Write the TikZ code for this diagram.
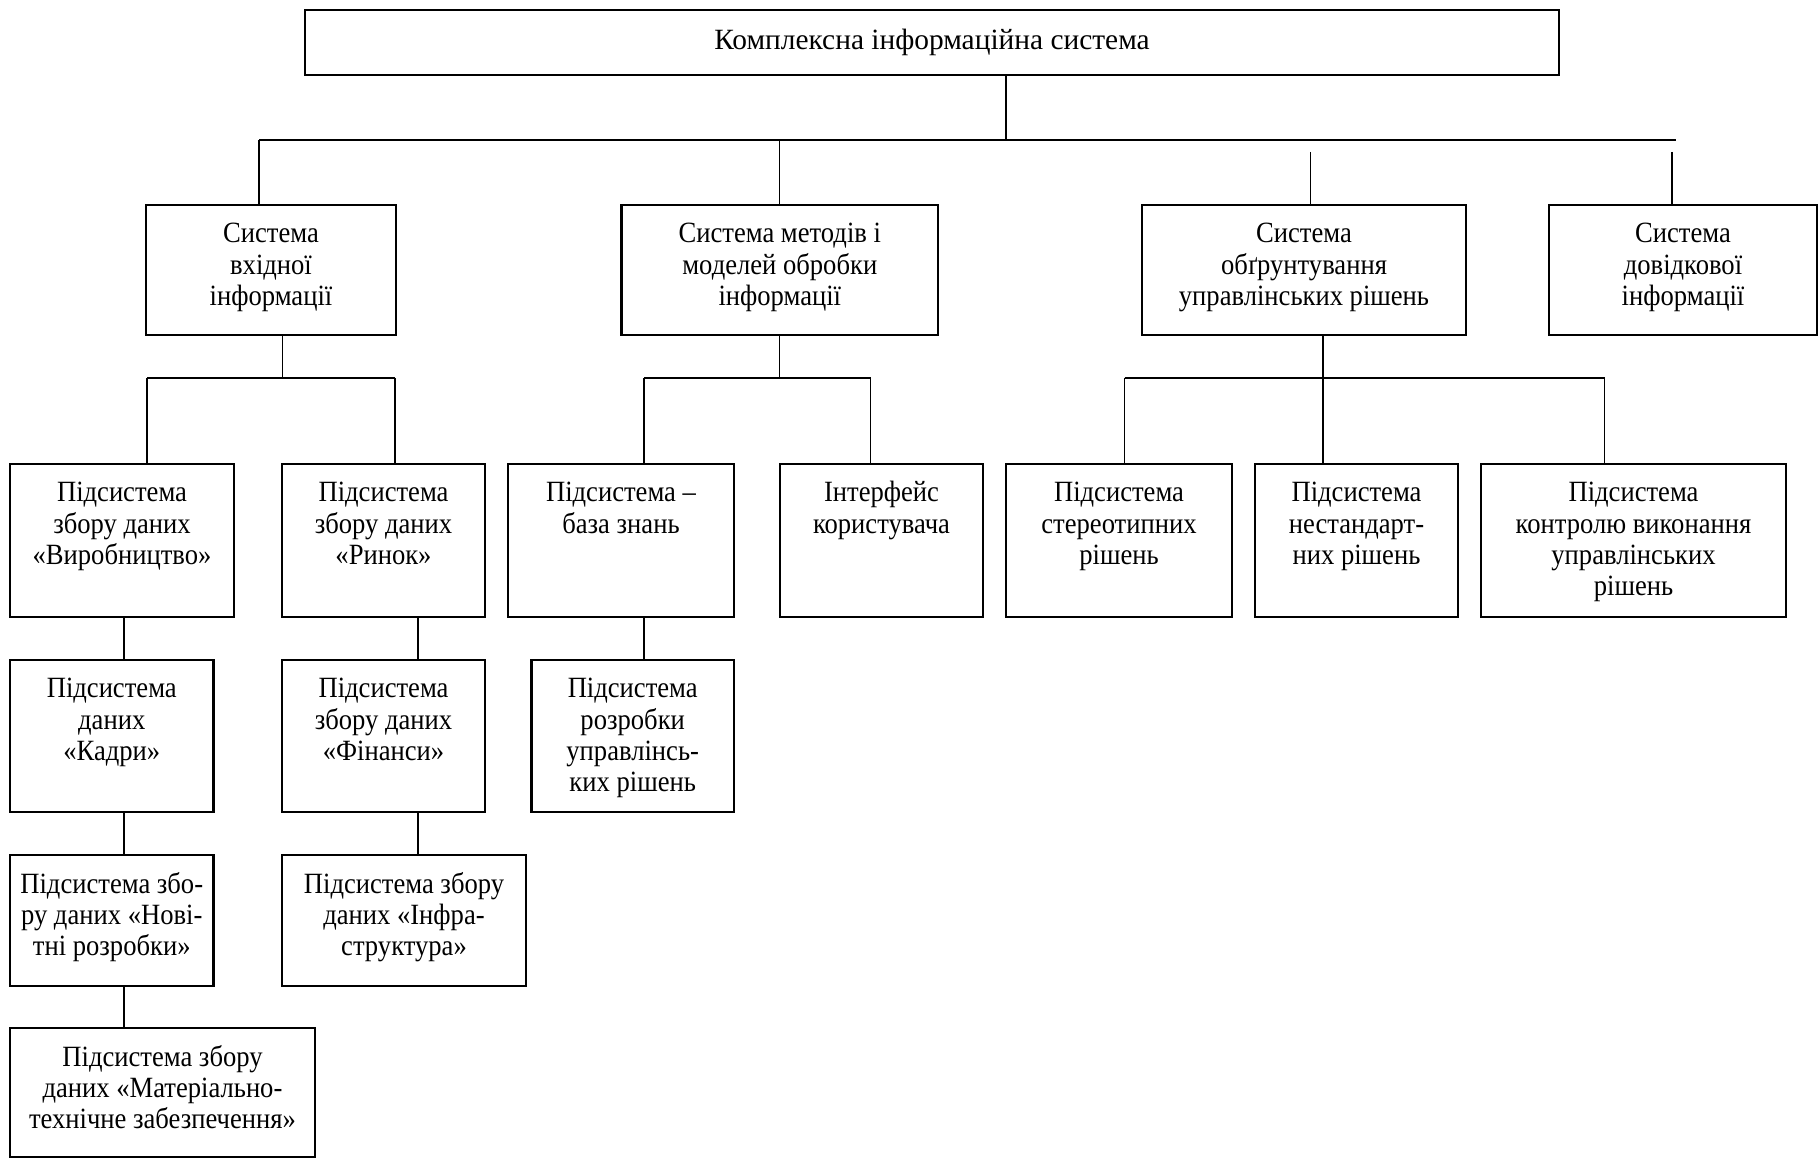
\documentclass[tikz,border=0pt]{standalone}
\usepackage{fontspec}
\setmainfont{Liberation Serif}
\newfontfamily\bodyfont[FakeStretch=0.905]{Liberation Serif}
\newcommand{\mkbox}[6]{%
  \node[boxst, minimum width={(#4-#2)*0.5pt}, minimum height={(#5-#3)*0.5pt}] (#1) at ({(#2+#4)/2},{(#3+#5)/2}) {};
  \node[txt] (#1t) at ({(#2+#4)/2},{#3+12}) {\rule{0pt}{13pt}#6};
}
\begin{document}
\begin{tikzpicture}[x=0.5pt,y=-0.5pt,
  boxst/.style={draw=black, line width=1.2pt, inner sep=0pt, outer sep=0pt},
  txt/.style={inner sep=0pt, outer sep=0pt, align=center, anchor=north, font=\bodyfont\fontsize{14.7pt}{15.65pt}\selectfont},
  conn/.style={draw=black, line width=0.65pt}]
\useasboundingbox (0,0) rectangle (1820,1159);

% top box
\node[boxst, minimum width={(1559-305)*0.5pt}, minimum height={(75-10)*0.5pt}] (top) at ({(305+1559)/2},{(10+75)/2}) {};
\node[txt, font=\rmfamily\fontsize{14.7pt}{15.65pt}\selectfont] (topt) at ({(305+1559)/2},{50-26}) {\rule{0pt}{13pt}Комплексна інформаційна система};

% level 1
\mkbox{s1}{146}{205}{396}{335}{Система\\вхідної\\інформації}
\mkbox{s2}{621.6}{205}{938}{335}{Система методів і\\моделей обробки\\інформації}
\mkbox{s3}{1142}{205}{1466}{335}{Система\\обґрунтування\\управлінських рішень}
\mkbox{s4}{1549}{205}{1817}{335}{Система\\довідкової\\інформації}

% level 2
\mkbox{p1}{10}{464}{234}{617}{Підсистема\\збору даних\\«Виробництво»}
\mkbox{p2}{282}{464}{485}{617}{Підсистема\\збору даних\\«Ринок»}
\mkbox{p3}{508}{464}{734}{617}{Підсистема –\\база знань}
\mkbox{p4}{780}{464}{983}{617}{Інтерфейс\\користувача}
\mkbox{p5}{1006}{464}{1232}{617}{Підсистема\\стереотипних\\рішень}
\mkbox{p6}{1255}{464}{1458}{617}{Підсистема\\нестандарт-\\них рішень}
\mkbox{p7}{1481}{464}{1786}{617}{Підсистема\\контролю виконання\\управлінських\\рішень}

% level 3+
\mkbox{k1}{10}{660}{213.5}{812}{Підсистема\\даних\\«Кадри»}
\mkbox{f1}{282}{660}{485}{812}{Підсистема\\збору даних\\«Фінанси»}
\mkbox{r1}{531.4}{660}{734}{812}{Підсистема\\розробки\\управлінсь-\\ких рішень}
\mkbox{n1}{10}{855}{213.5}{986}{Підсистема збо-\\ру даних «Нові-\\тні розробки»}
\mkbox{i1}{282}{855}{526}{986}{Підсистема збору\\даних «Інфра-\\структура»}
\mkbox{m1}{10}{1028}{315}{1157}{Підсистема збору\\даних «Матеріально-\\технічне забезпечення»}

% connectors level 1
\coordinate (b0) at (1006,140);
\coordinate (b0L) at (259,140);
\coordinate (b0R) at (1676,140);
\draw[conn] (top.south -| b0) -- (b0);
\draw[conn] (b0L) -- (b0R);
\draw[conn] (b0L) -- (b0L |- s1.north);
\draw[conn] (s2.north |- b0) -- (s2.north);
\coordinate (d3) at (1310.5,152);
\coordinate (d4) at (1672,152);
\draw[conn] (d3) -- (d3 |- s3.north);
\draw[conn] (d4) -- (d4 |- s4.north);

% connectors level 2
\coordinate (b1) at (282.6,378);
\coordinate (b1L) at (147,378);
\coordinate (b1R) at (395,378);
\draw[conn] (b1 |- s1.south) -- (b1);
\draw[conn] (b1L) -- (b1R);
\draw[conn] (b1L) -- (b1L |- p1.north);
\draw[conn] (b1R) -- (b1R |- p2.north);

\coordinate (b2L) at (644,378);
\coordinate (b2R) at (870.7,378);
\draw[conn] (s2.south) -- (s2.south |- b2L);
\draw[conn] (b2L) -- (b2R);
\draw[conn] (b2L) -- (b2L |- p3.north);
\draw[conn] (b2R) -- (b2R |- p4.north);

\coordinate (b3) at (1323,378);
\coordinate (b3L) at (1124.6,378);
\coordinate (b3R) at (1604.5,378);
\draw[conn] (b3 |- s3.south) -- (b3);
\draw[conn] (b3L) -- (b3R);
\draw[conn] (b3L) -- (b3L |- p5.north);
\draw[conn] (b3) -- (b3 |- p6.north);
\draw[conn] (b3R) -- (b3R |- p7.north);

% chains
\coordinate (c1) at (124,0);
\coordinate (c2) at (418,0);
\coordinate (c3) at (644,0);
\draw[conn] (p1.south -| c1) -- (k1.north -| c1);
\draw[conn] (k1.south -| c1) -- (n1.north -| c1);
\draw[conn] (n1.south -| c1) -- (m1.north -| c1);
\draw[conn] (p2.south -| c2) -- (f1.north -| c2);
\draw[conn] (f1.south -| c2) -- (i1.north -| c2);
\draw[conn] (p3.south -| c3) -- (r1.north -| c3);
\end{tikzpicture}
\end{document}
